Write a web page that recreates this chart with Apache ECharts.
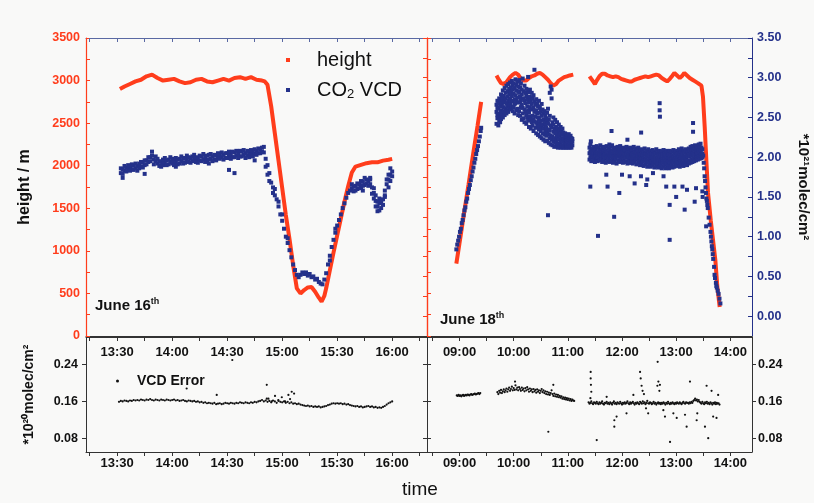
<!DOCTYPE html>
<html><head><meta charset="utf-8">
<script src="https://cdn.jsdelivr.net/npm/echarts@6/dist/echarts.min.js"></script>
<style>html,body{margin:0;padding:0;background:#f9f9f8;}#c{width:814px;height:503px;}</style>
</head><body><div id="c"></div>
<script>
// ---------- axis ranges / tick labels ----------
var leftRange = ['13:13', '16:19'];
var rightRange = ['08:24', '14:24'];
var leftTimeLabels = ['13:30', '14:00', '14:30', '15:00', '15:30', '16:00'];
var rightTimeLabels = ['09:00', '10:00', '11:00', '12:00', '13:00', '14:00'];
var heightTicks = [0, 500, 1000, 1500, 2000, 2500, 3000, 3500];
var co2Ticks = [0, 0.5, 1.0, 1.5, 2.0, 2.5, 3.0, 3.5];
var errTicks = [0.08, 0.16, 0.24];

// ---------- June 16: height (m) ----------
var heightJune16 = [
 ['13:31.5',2900],['13:34',2930],['13:37',2960],['13:40',2990],['13:43',3010],['13:46',3050],['13:49',3070],
 ['13:52',3030],['13:55',3000],['13:58',3010],['14:01',3020],['14:04',2990],['14:07',2970],['14:10',2980],
 ['14:13',3010],['14:16',3020],['14:19',2990],['14:22',2980],['14:25',3000],['14:28',3020],['14:31',3000],
 ['14:34',3030],['14:37',3040],['14:40',3020],['14:43',3040],['14:46',3010],['14:49',3000],['14:50.5',2990],
 ['14:52',2950],['14:54',2700],['14:56',2380],['14:58',2060],['15:00',1740],['15:02',1420],['15:04',1140],
 ['15:06',830],['15:08',560],['15:10',500],['15:12',540],['15:14',570],['15:16',575],['15:18',520],
 ['15:20',450],['15:21.5',405],['15:23',470],['15:24',560],['15:26',770],['15:28',980],['15:30',1180],
 ['15:32',1380],['15:34',1580],['15:36',1760],['15:38',1920],['15:40',1990],['15:43',2010],['15:46',2030],
 ['15:49',2040],['15:52',2040],['15:55',2060],['15:58',2070],['16:00',2080]
];
// ---------- June 16: CO2 VCD (*1e21 molec/cm2) ----------
var co2June16 = [
 ['13:32',1.80],['13:33',1.85],['13:34',1.83],['13:35',1.87],['13:36',1.84],['13:37',1.88],['13:38',1.85],['13:39',1.90],['13:40',1.86],['13:41',1.89],
 ['13:42',1.92],['13:43',1.88],['13:44',1.93],['13:45',1.90],['13:46',1.96],['13:47',1.94],['13:48',2.00],['13:49',2.02],['13:50',1.97],['13:51',1.95],
 ['13:52',1.92],['13:53',1.89],['13:54',1.94],['13:55',1.90],['13:56',1.93],['13:57',1.96],['13:58',1.91],['13:59',1.94],['14:00',1.92],['14:01',1.96],
 ['14:02',1.93],['14:03',1.97],['14:04',1.92],['14:05',1.95],['14:06',1.98],['14:07',1.93],['14:08',1.96],['14:09',1.94],['14:10',1.99],['14:11',1.95],
 ['14:12',1.97],['14:13',1.94],['14:14',1.99],['14:15',1.96],['14:16',2.01],['14:17',1.97],['14:18',2.00],['14:19',1.96],['14:20',2.03],['14:21',1.98],
 ['14:22',2.01],['14:23',1.97],['14:24',2.02],['14:25',1.99],['14:26',2.04],['14:27',2.00],['14:28',2.03],['14:29',1.99],['14:30',2.05],['14:31',2.01],
 ['14:32',2.04],['14:33',2.00],['14:34',2.06],['14:35',2.02],['14:36',2.05],['14:37',2.01],['14:38',2.07],['14:39',2.03],['14:40',2.05],['14:41',2.02],
 ['14:42',2.06],['14:43',2.03],['14:44',2.07],['14:45',2.04],['14:46',2.08],['14:47',2.05],['14:48',2.10],['14:49',2.12],['14:50',2.06],['14:51',1.98],
 ['14:52',1.90],['14:53',1.80],['14:54',1.68],['14:55',1.62],['14:56',1.52],['14:57',1.47],['14:58',1.38],['14:59',1.28],['15:00',1.20],['15:01',1.10],
 ['15:02',1.00],['15:03',0.92],['15:04',0.83],['15:05',0.74],['15:06',0.65],['15:07',0.58],['15:08',0.52],['15:09',0.49],['15:10',0.52],['15:11',0.55],
 ['15:12',0.53],['15:13',0.55],['15:14',0.51],['15:15',0.53],['15:16',0.49],['15:17',0.50],['15:18',0.46],['15:19',0.47],['15:20',0.43],['15:21',0.41],
 ['15:22',0.40],['15:23',0.46],['15:24',0.54],['15:25',0.65],['15:26',0.76],['15:27',0.87],['15:28',0.96],['15:29',1.05],['15:30',1.14],['15:31',1.21],
 ['15:32',1.28],['15:33',1.36],['15:34',1.42],['15:35',1.49],['15:36',1.55],['15:37',1.58],['15:38',1.61],['15:39',1.57],['15:40',1.64],['15:41',1.60],
 ['15:42',1.66],['15:43',1.62],['15:44',1.69],['15:45',1.65],['15:46',1.72],['15:47',1.70],['15:48',1.66],['15:49',1.62],['15:50',1.55],['15:51',1.45],
 ['15:52',1.38],['15:53',1.42],['15:54',1.36],['15:55',1.47],['15:56',1.58],['15:57',1.66],['15:58',1.72],['15:59',1.78],['16:00',1.82],
 ['13:33',1.74],['13:45',1.79],['14:02',1.88],['14:20',1.92],['14:31',1.84],['14:34',1.80],['14:45',1.96],['14:51',1.88],['14:52',1.78],
 ['14:53',1.70],['14:55',1.55],['14:56',1.60],['14:58',1.44],['15:00',1.28],['15:03',0.98],['15:26',0.70],['15:29',1.10],['15:44',1.58],
 ['15:48',1.74],['15:50',1.48],['15:51',1.38],['15:52',1.32],['15:53',1.48],['15:54',1.44],['15:56',1.50],['15:58',1.62],['15:59',1.86]
];
// second reading per minute in the noisy flat parts
var co2June16SecondAStart = '13:32';
var co2June16SecondA = [
 1.86,1.79,1.89,1.82,1.90,1.83,1.91,1.84,1.92,1.83,
 1.86,1.94,1.87,1.96,1.91,2.00,1.95,2.07,1.91,2.01,
 1.98,1.95,1.88,1.97,1.99,1.90,1.97,2.00,1.98,1.90,
 1.99,1.91,1.98,2.01,1.92,1.99,2.02,2.00,1.93,2.01,
 2.03,2.00,1.93,2.02,1.95,2.04,1.94,2.02,1.97,2.04,
 1.95,2.03,1.96,2.05,1.98,2.06,1.97,2.05,1.99,2.07,
 1.98,2.07,2.00,2.08,1.99,2.08,2.01,2.09,1.99,2.08,
 2.00,2.09,2.01,2.10,2.03,2.11,2.05,2.07,2.13
];
var co2June16SecondBStart = '15:38';
var co2June16SecondB = [1.66,1.63,1.58,1.67,1.61,1.70,1.64,1.74,1.67,1.64,1.72,1.54,1.61,1.52,1.44,1.33,1.46,1.40,1.52,1.72,1.78,1.70,1.76];

// ---------- June 16: VCD error (*1e20), one reading per minute from 13:31 ----------
var errJune16Start = '13:31';
var errJune16 = [
 0.159,0.161,0.160,0.162,0.161,0.160,0.162,0.161,0.163,0.162,
 0.163,0.162,0.164,0.163,0.162,0.164,0.163,0.165,0.163,0.162,
 0.164,0.163,0.162,0.164,0.163,0.162,0.164,0.163,0.162,0.163,
 0.164,0.162,0.163,0.161,0.162,0.163,0.161,0.160,0.162,0.161,
 0.160,0.161,0.159,0.160,0.158,0.159,0.157,0.158,0.156,0.157,
 0.156,0.155,0.157,0.154,0.155,0.156,0.154,0.155,0.157,0.156,
 0.155,0.157,0.156,0.155,0.157,0.156,0.158,0.157,0.156,0.158,
 0.157,0.156,0.158,0.157,0.159,0.158,0.160,0.161,0.163,0.160,
 0.162,0.159,0.161,0.158,0.162,0.160,0.157,0.161,0.159,0.158,
 0.160,0.157,0.159,0.156,0.158,0.155,0.156,0.154,0.155,0.153,
 0.152,0.151,0.150,0.151,0.149,0.150,0.148,0.149,0.148,0.149,
 0.147,0.148,0.149,0.150,0.152,0.153,0.155,0.156,0.155,0.156,
 0.155,0.156,0.154,0.155,0.153,0.154,0.152,0.151,0.150,0.149,
 0.150,0.148,0.149,0.147,0.148,0.149,0.150,0.148,0.149,0.147,
 0.148,0.146,0.147,0.146,0.148,0.150,0.153,0.156,0.158,0.160
];
var errJune16Scatter = [
 ['14:32.8',0.250],['14:07.9',0.188],['14:24.3',0.174],['14:51.6',0.196],['14:51.6',0.166],['14:52.5',0.166],
 ['14:54.3',0.160],['14:56.1',0.172],['14:57.9',0.163],['14:59.8',0.169],['15:01.6',0.160],['15:03.4',0.174],
 ['15:04.3',0.165],['15:05.2',0.181],['15:06.5',0.177]
];

// ---------- June 18: height (m), three flight legs ----------
var heightJune18a = [['08:56.5',850],['09:00',1090],['09:05',1440],['09:10',1780],['09:15',2130],['09:20',2470],['09:24',2750]];
var heightJune18b = [
 ['09:41',3060],['09:43',3020],['09:46',2970],['09:49',2960],['09:52',2980],['09:56',3040],['09:59',3070],['10:02',3090],
 ['10:05',3070],['10:08',3020],['10:11',3000],['10:14',3000],['10:17',3030],['10:20',3050],['10:23',3060],['10:26',3080],
 ['10:29',3090],['10:32',3070],['10:35',3040],['10:38',3010],['10:41',2970],['10:44',2940],['10:47',2960],['10:50',3000],
 ['10:53',3020],['10:56',3040],['10:59',3050],['11:02',3060],['11:06',3070]
];
var heightJune18c = [
 ['11:24',3050],['11:26',3030],['11:28',2990],['11:30',2960],['11:32',3000],['11:35',3050],['11:38',3080],['11:41',3080],
 ['11:44',3060],['11:47',3050],['11:50',3040],['11:53',3050],['11:56',3040],['11:59',3020],['12:02',3010],['12:05',3000],
 ['12:08',2990],['12:11',2990],['12:14',3010],['12:17',3020],['12:20',3030],['12:23',3040],['12:26',3050],['12:29',3040],
 ['12:32',3050],['12:35',3060],['12:38',3070],['12:41',3060],['12:44',3030],['12:47',3010],['12:50',2990],['12:53',3020],
 ['12:56',3060],['12:58',3090],['13:01',3060],['13:04',3030],['13:07',3060],['13:09',3090],['13:12',3060],['13:15',3030],
 ['13:18',3010],['13:21',2990],['13:24',2970],['13:26',2960],['13:28',2940],['13:29.7',2810],['13:31.6',2460],['13:33.4',2070],
 ['13:35.3',1680],['13:38.3',1360],['13:40.8',1130],['13:43.4',890],['13:45.6',580],['13:48.2',340]
];
// ---------- June 18: CO2 VCD; each row: time, readings ----------
var co2June18 = [
 ['08:56.5',0.84],['08:57.5',0.90],['08:58.5',0.95],['08:59.5',1.00],['09:00.5',1.06],['09:01.5',1.10],['09:02.5',1.17],['09:03.5',1.21],
 ['09:04.5',1.27],['09:05.5',1.33],['09:06.5',1.37],['09:07.5',1.44],['09:08.5',1.48],['09:09.5',1.55],['09:10.5',1.60],['09:11.5',1.65],
 ['09:12.5',1.71],['09:13.5',1.76],['09:14.5',1.82],['09:15.5',1.87],['09:16.5',1.93],['09:17.5',1.98],['09:18.5',2.04],['09:19.5',2.09],
 ['09:20.5',2.14],['09:21.5',2.20],['09:22.5',2.26],['09:23.5',2.33],['09:24',2.37],
 ['09:41',2.42,2.57,2.66],['09:42',2.49,2.53,2.71,2.62],['09:43',2.40,2.61,2.68],['09:44',2.46,2.55,2.74],['09:45',2.51,2.64,2.70,2.44],
 ['09:46',2.48,2.59,2.79],['09:47',2.56,2.67,2.75,2.52],['09:48',2.50,2.72,2.84],['09:49',2.58,2.63,2.77,2.69],['09:50',2.53,2.70,2.87],
 ['09:51',2.61,2.74,2.81,2.57],['09:52',2.55,2.68,2.90],['09:53',2.64,2.76,2.83,2.59],['09:54',2.57,2.71,2.92],['09:55',2.62,2.79,2.86,2.68],
 ['09:56',2.66,2.74,2.94],['09:57',2.60,2.82,2.88,2.71],['09:58',2.64,2.77,2.96],['09:59',2.58,2.70,2.85,2.91],['10:00',2.63,2.80,2.93],
 ['10:01',2.55,2.73,2.87,2.67],['10:02',2.68,2.78,2.98],['10:03',2.59,2.84,2.91,2.72],['10:04',2.61,2.75,2.95],['10:05',2.53,2.69,2.83,2.89],
 ['10:06',2.58,2.81,2.97],['10:07',2.52,2.69,2.76,2.88],['10:08',2.63,2.72,2.93],['10:09',2.47,2.66,2.85,2.79],['10:10',2.55,2.62,2.99],
 ['10:11',2.49,2.74,2.83],['10:12',2.44,2.60,2.71,2.90],['10:13',2.57,2.68,2.81],['10:14',2.42,2.53,2.77,2.86],['10:15',2.50,2.64,2.73],
 ['10:16',2.46,2.59,2.82,3.01],['10:17',2.38,2.56,2.69],['10:18',2.51,2.63,2.76,2.85],['10:19',2.36,2.48,2.72],['10:20',2.44,2.60,2.67,2.81],
 ['10:21',2.40,2.52,2.74],['10:22',2.33,2.47,2.62,2.78],['10:23',2.45,2.57,2.70,3.10],['10:24',2.37,2.51,2.66],['10:25',2.30,2.44,2.59,2.73],
 ['10:26',2.42,2.55,2.68],['10:27',2.28,2.39,2.50,2.64],['10:28',2.35,2.48,2.71],['10:29',2.26,2.43,2.56,2.62],['10:30',2.33,2.46,2.58],
 ['10:31',2.24,2.38,2.52,2.67],['10:32',2.30,2.41,2.60],['10:33',2.22,2.36,2.47,2.55],['10:34',2.29,2.44,2.58],['10:35',2.20,2.33,2.40,2.52],
 ['10:36',2.27,2.37,2.49],['10:37',2.21,2.31,2.45,2.56],['10:38',1.27,2.35,2.42,2.61],['10:39',2.18,2.29,2.47],['10:40',2.24,2.34,2.52,2.81],
 ['10:41',2.16,2.27,2.40,2.89],['10:42',2.22,2.38,2.74,2.85],['10:43',2.15,2.26,2.44],['10:44',2.20,2.32,2.41,2.50],['10:45',2.13,2.24,2.36],
 ['10:46',2.19,2.30,2.47],['10:47',2.14,2.21,2.38],['10:48',2.17,2.28,2.44,2.33],['10:49',2.12,2.25,2.36],['10:50',2.16,2.22,2.41],
 ['10:51',2.13,2.27,2.34],['10:52',2.12,2.19,2.30,2.38],['10:53',2.15,2.24,2.33],['10:54',2.12,2.20,2.29,2.36],['10:55',2.14,2.23,2.31],
 ['10:56',2.12,2.18,2.27],['10:57',2.15,2.22,2.30],['10:58',2.12,2.17,2.25],['10:59',2.14,2.21,2.28],['11:00',2.12,2.19,2.26],
 ['11:01',2.15,2.22,2.29],['11:02',2.12,2.17,2.25],['11:03',2.14,2.21,2.27],['11:04',2.12,2.18,2.24],['11:05',2.15,2.20,2.23],
 ['11:24',1.97,2.05,2.12],['11:25',2.00,2.07,2.16],['11:26',1.95,2.02,2.08],['11:27',2.01,2.06,2.11],['11:28',1.96,2.03,2.07],['11:29',1.99,2.05,2.13],['11:30',1.94,2.01,2.09],
 ['11:31',2.02,2.04,2.10],['11:32',1.97,2.06,2.14],['11:33',1.95,2.00,2.06],['11:34',2.00,2.03,2.12],['11:35',1.96,2.04,2.09],['11:36',2.03,2.08,2.15],['11:37',1.98,2.02,2.08],
 ['11:38',1.94,2.04,2.11],['11:39',2.01,2.07,2.13],['11:40',1.96,2.01,2.07],['11:41',1.99,2.05,2.12],['11:42',1.93,2.03,2.08],['11:43',2.00,2.06,2.14],['11:44',1.95,2.00,2.06],
 ['11:45',1.98,2.04,2.11],['11:46',1.94,2.02,2.09],['11:47',2.01,2.05,2.13],['11:48',1.96,2.02,2.07],['11:49',1.99,2.06,2.15],['11:50',1.93,2.01,2.08],['11:51',2.00,2.04,2.11],
 ['11:52',1.95,2.01,2.06],['11:53',1.98,2.05,2.12],['11:54',1.92,2.02,2.09],['11:55',2.01,2.06,2.13],['11:56',1.96,2.01,2.07],['11:57',1.94,2.03,2.10],['11:58',2.00,2.06,2.14],
 ['11:59',1.95,2.02,2.08],['12:00',1.98,2.04,2.11],['12:01',1.93,2.00,2.06],['12:02',1.99,2.05,2.12],['12:03',1.94,2.02,2.08],['12:04',2.00,2.03,2.10],['12:05',1.95,2.05,2.13],
 ['12:06',1.92,2.00,2.07],['12:07',1.98,2.03,2.11],['12:08',1.94,2.01,2.06],['12:09',2.00,2.04,2.12],['12:10',1.93,2.02,2.08],['12:11',1.97,2.03,2.10],['12:12',1.92,1.99,2.05],
 ['12:13',1.99,2.05,2.13],['12:14',1.94,2.00,2.07],['12:15',1.97,2.04,2.11],['12:16',1.91,1.99,2.06],['12:17',1.98,2.02,2.09],['12:18',1.93,2.04,2.12],['12:19',1.96,2.00,2.05],
 ['12:20',1.90,1.99,2.08],['12:21',1.97,2.03,2.10],['12:22',1.92,1.98,2.04],['12:23',1.95,2.02,2.09],['12:24',1.89,1.98,2.06],['12:25',1.96,2.03,2.11],['12:26',1.91,1.97,2.05],
 ['12:27',1.94,2.01,2.08],['12:28',1.88,1.96,2.03],['12:29',1.95,2.02,2.10],['12:30',1.90,1.98,2.06],['12:31',1.93,1.99,2.04],['12:32',1.88,1.97,2.08],['12:33',1.95,2.00,2.05],
 ['12:34',1.90,1.99,2.09],['12:35',1.92,1.97,2.03],['12:36',1.87,1.96,2.07],['12:37',1.94,1.99,2.05],['12:38',1.89,2.00,2.10],['12:39',1.92,1.98,2.04],['12:40',1.87,1.96,2.06],
 ['12:41',1.93,1.97,2.02],['12:42',1.88,1.99,2.08],['12:43',1.91,1.96,2.04],['12:44',1.86,1.98,2.07],['12:45',1.93,1.97,2.03],['12:46',1.88,1.99,2.09],['12:47',1.91,1.98,2.05],
 ['12:48',1.86,1.95,2.02],['12:49',1.92,1.99,2.08],['12:50',1.87,1.96,2.04],['12:51',1.90,1.98,2.06],['12:52',1.86,1.95,2.03],['12:53',1.93,1.99,2.08],['12:54',1.88,1.97,2.04],
 ['12:55',1.91,1.98,2.07],['12:56',1.87,1.95,2.02],['12:57',1.93,2.00,2.09],['12:58',1.88,1.97,2.05],['12:59',1.92,1.99,2.07],['13:00',1.89,1.96,2.03],['13:01',1.94,2.00,2.08],
 ['13:02',1.90,1.98,2.05],['13:03',1.93,2.01,2.10],['13:04',1.88,1.97,2.04],['13:05',1.95,2.00,2.07],['13:06',1.90,2.02,2.11],['13:07',1.93,1.99,2.05],['13:08',1.89,1.98,2.08],
 ['13:09',1.95,2.01,2.06],['13:10',1.91,2.00,2.10],['13:11',1.94,1.99,2.04],['13:12',1.90,2.02,2.09],['13:13',1.96,2.01,2.07],['13:14',1.92,2.03,2.11],['13:15',1.95,2.01,2.08],
 ['13:16',1.93,2.04,2.13],['13:17',1.97,2.02,2.09],['13:18',1.94,2.05,2.14],['13:19',1.98,2.03,2.10],['13:20',1.95,2.04,2.12],['13:21',1.99,2.07,2.15],['13:22',1.96,2.03,2.11],
 ['13:23',2.00,2.06,2.14],['13:24',1.97,2.05,2.12],['13:25',2.01,2.08,2.16],['13:26',1.98,2.06,2.13],['13:27',2.02,2.09,2.17],['13:28',1.99,2.05,2.12],['13:29',2.00,2.04,2.10],
 ['13:30',2.02],['13:30.5',1.93],['13:31',1.86],['13:31.5',1.76],['13:32',1.70],['13:32.5',1.62],['13:33',1.55],['13:33.5',1.48],
 ['13:34',1.45],['13:34.5',1.40],['13:35',1.36],['13:33.2',1.13],['13:36',1.24],['13:37',1.15],['13:38',1.06],['13:38.5',1.00],
 ['13:39',0.94],['13:39.5',0.88],['13:40',0.84],['13:40.5',0.78],['13:41',0.72],['13:42',0.62],['13:42.5',0.52],['13:43',0.48],
 ['13:44',0.42],['13:44.5',0.38],['13:45',0.36],['13:46',0.32],['13:47',0.28],['13:48',0.22],['13:49',0.16]
];
var co2June18Outliers = [
 ['11:24.9',1.63],['11:33.4',1.01],['11:42.6',1.78],['11:44',1.63],['11:51.3',1.25],['11:57',1.55],['12:00',1.78],['12:08.5',1.76],
 ['12:10',1.93],['12:14',1.67],['12:21',1.76],['12:26.8',1.65],['12:28',1.72],['12:34.3',1.80],['12:41.7',2.68],['12:41.7',2.59],
 ['12:42',2.51],['12:46',1.76],['12:49',1.63],['12:52.8',0.96],['12:52.8',1.40],['12:58',1.63],['13:00',1.50],['13:07',1.63],
 ['13:09.4',1.34],['13:12',1.59],['13:20.5',1.44],['13:22',1.61],['13:18.7',2.43],['13:18.7',2.32],['11:48.4',2.33],['12:21.2',2.31],
 ['12:06',2.22],['11:25.5',2.20],['11:46',2.16],['13:29',1.57],['13:29.3',1.50]
];
// ---------- June 18: VCD error ----------
var errJune18aStart = '08:57';
var errJune18a = [0.173,0.172,0.174,0.172,0.173,0.171,0.173,0.174,0.172,0.173,0.174,0.173,0.175,0.174,0.173,0.175,0.176,0.174,0.175,0.176,0.177,0.175,0.176,0.177,0.178,0.176,0.178];
var errJune18bStart = '09:42';
var errJune18b = [
 0.180,0.176,0.183,0.179,0.185,0.178,0.182,0.186,0.180,0.184,
 0.188,0.181,0.186,0.190,0.183,0.187,0.192,0.184,0.189,0.185,
 0.195,0.186,0.190,0.184,0.191,0.187,0.183,0.190,0.185,0.188,
 0.182,0.189,0.184,0.191,0.186,0.181,0.188,0.183,0.186,0.180,
 0.187,0.182,0.185,0.179,0.186,0.181,0.184,0.178,0.183,0.187,
 0.180,0.184,0.178,0.182,0.176,0.181,0.175,0.179,0.174,0.178,
 0.184,0.176,0.172,0.177,0.171,0.175,0.170,0.174,0.169,0.172,
 0.168,0.171,0.166,0.169,0.165,0.168,0.164,0.167,0.163,0.166,
 0.162,0.165,0.161,0.164,0.162,0.161
];
var errJune18cStart = '11:23';
var errJune18c = [
 0.158,0.155,0.157,0.160,0.156,0.154,0.158,0.157,0.155,0.159,
 0.156,0.154,0.158,0.155,0.157,0.160,0.155,0.153,0.157,0.156,
 0.159,0.155,0.157,0.154,0.158,0.156,0.153,0.157,0.160,0.155,
 0.157,0.154,0.158,0.156,0.155,0.159,0.156,0.153,0.157,0.155,
 0.158,0.155,0.157,0.160,0.156,0.154,0.158,0.155,0.157,0.159,
 0.156,0.153,0.157,0.155,0.158,0.156,0.154,0.159,0.157,0.155,
 0.160,0.156,0.158,0.154,0.157,0.161,0.156,0.155,0.158,0.157,
 0.154,0.156,0.159,0.155,0.157,0.153,0.156,0.158,0.155,0.157,
 0.154,0.157,0.155,0.158,0.156,0.153,0.157,0.155,0.159,0.156,
 0.154,0.157,0.155,0.158,0.156,0.154,0.157,0.155,0.158,0.156,
 0.155,0.158,0.156,0.154,0.157,0.159,0.156,0.155,0.158,0.157,
 0.157,0.155,0.158,0.156,0.159,0.157,0.161,0.163,0.166,0.162,
 0.164,0.160,0.163,0.159,0.157,0.155,0.159,0.156,0.154,0.158,
 0.156,0.159,0.155,0.157,0.154,0.158,0.156,0.153,0.157,0.155,
 0.158,0.154,0.157,0.155,0.156,0.153
];
var errJune18Scatter = [
 ['11:25.3',0.224],['11:25.3',0.210],['11:25.6',0.196],['11:26',0.181],['11:25',0.167],['11:32',0.076],['11:43',0.170],
 ['11:51.5',0.119],['11:51.5',0.105],['11:54',0.127],['12:05',0.134],['12:12.6',0.174],['12:20',0.224],['12:20.7',0.210],
 ['12:21.7',0.194],['12:22.8',0.183],['12:24.3',0.176],['12:26.6',0.145],['12:29',0.134],['12:39.5',0.246],['12:40.3',0.203],
 ['12:39.2',0.194],['12:41.4',0.183],['12:42',0.196],['12:45.8',0.141],['12:47.6',0.127],['12:53.2',0.072],['12:56.9',0.134],
 ['13:00.6',0.124],['13:09.8',0.131],['13:11.6',0.105],['13:15.3',0.203],['13:22.7',0.119],['13:23.4',0.134],['13:31.9',0.105],
 ['13:33.7',0.194],['13:35.5',0.080],['13:39.2',0.183],['13:41',0.127],['13:44.7',0.124],['13:46.5',0.174],['10:38.4',0.094],
 ['10:43.9',0.196],['10:01.5',0.203]
];

// ---------- helpers ----------
function tm(s){ var p = String(s).split(':'); return (+p[0]) * 60 + parseFloat(p[1]); }
function pairs(a){ return a.map(function(d){ return [tm(d[0]), d[1]]; }); }
function multi(a){ var o = []; a.forEach(function(d){ for (var i = 1; i < d.length; i++) o.push([tm(d[0]), d[i]]); }); return o; }
function perMinute(start, vals){ var t0 = tm(start); return vals.map(function(v, i){ return [t0 + i, v]; }); }
function hhmm(v){ var h = Math.floor(v / 60), m = Math.round(v - h * 60); return (h < 10 ? '0' : '') + h + ':' + (m < 10 ? '0' : '') + m; }
function range(a, b, step){ var o = []; for (var v = a; v <= b + 1e-9; v += step) o.push(+v.toFixed(4)); return o; }

var RED = '#ff3d1c', BLUE = '#24318a', DARK = '#333333', TOPLINE = '#5a69a3';
var FONT = 'Liberation Sans, Arial, sans-serif';
var lMin = tm(leftRange[0]), lMax = tm(leftRange[1]), rMin = tm(rightRange[0]), rMax = tm(rightRange[1]);
var lLab = leftTimeLabels.map(tm), rLab = rightTimeLabels.map(tm);
var lTick = range(795, 975, 15), rTick = range(510, 840, 30);

function xAx(grid, min, max, pos, opts){
  var base = {type:'value', gridIndex:grid, min:min, max:max, position:pos, splitLine:{show:false},
    axisLine:{show:true, onZero:false, lineStyle:{color:DARK, width:1}}, axisTick:{show:false}, axisLabel:{show:false}};
  return Object.assign(base, opts || {});
}
function timeLabel(vals, inside, margin){
  return {show:true, inside:inside, margin:margin, customValues:vals, formatter:hhmm,
    fontFamily:FONT, fontSize:13, fontWeight:'bold', color:'#111'};
}

var chart = echarts.init(document.getElementById('c'), null, {renderer:'canvas'});
var option = {
  animation:false,
  backgroundColor:'#f9f9f8',
  textStyle:{fontFamily:FONT},
  grid:[
    {left:86, top:38, width:341, height:298, outerBoundsMode:'none'},
    {left:427, top:38, width:325, height:298, outerBoundsMode:'none'},
    {left:86, top:337, width:341, height:115, outerBoundsMode:'none'},
    {left:427, top:337, width:325, height:115, outerBoundsMode:'none'}
  ],
  xAxis:[
    xAx(0, lMin, lMax, 'bottom'),
    xAx(0, lMin, lMax, 'top', {axisLine:{show:true, onZero:false, lineStyle:{color:TOPLINE}}, axisTick:{show:true, inside:true, length:4, customValues:lTick, lineStyle:{color:TOPLINE}}}),
    xAx(1, rMin, rMax, 'bottom'),
    xAx(1, rMin, rMax, 'top', {axisLine:{show:true, onZero:false, lineStyle:{color:TOPLINE}}, axisTick:{show:true, inside:true, length:4, customValues:rTick, lineStyle:{color:TOPLINE}}}),
    xAx(2, lMin, lMax, 'bottom', {axisTick:{show:true, inside:false, length:4, customValues:lTick, lineStyle:{color:DARK}}, axisLabel:timeLabel(lLab, false, 5)}),
    xAx(2, lMin, lMax, 'top', {axisTick:{show:true, inside:true, length:4, customValues:lTick, lineStyle:{color:DARK}}, axisLabel:timeLabel(lLab, true, 9)}),
    xAx(3, rMin, rMax, 'bottom', {axisTick:{show:true, inside:false, length:4, customValues:rTick, lineStyle:{color:DARK}}, axisLabel:timeLabel(rLab, false, 5)}),
    xAx(3, rMin, rMax, 'top', {axisTick:{show:true, inside:true, length:4, customValues:rTick, lineStyle:{color:DARK}}, axisLabel:timeLabel(rLab, true, 9)})
  ],
  yAxis:[
    {type:'value', gridIndex:0, position:'left', min:0, max:3500, interval:500, splitLine:{show:false},
     axisLine:{show:true, onZero:false, lineStyle:{color:RED, width:1.2}},
     axisTick:{show:true, inside:true, length:4, customValues:range(0,3500,250), lineStyle:{color:RED}},
     axisLabel:{show:true, customValues:heightTicks, margin:6, formatter:function(v){return String(v);},
       fontFamily:FONT, fontSize:12.5, fontWeight:'bold', color:RED},
     name:'height / m', nameLocation:'middle', nameGap:53, nameMoveOverlap:false,
     nameTextStyle:{fontFamily:FONT, fontSize:16, fontWeight:'bold', color:'#111'}},
    {type:'value', gridIndex:0, position:'right', min:-0.25, max:3.5, splitLine:{show:false},
     axisLine:{show:true, onZero:false, lineStyle:{color:RED, width:1.2}},
     axisTick:{show:true, inside:true, length:4, customValues:range(0,3500,250).map(function(v){return v/1000;}), lineStyle:{color:RED}},
     axisLabel:{show:false}},
    {type:'value', gridIndex:1, position:'left', min:0, max:3500, splitLine:{show:false},
     axisLine:{show:true, onZero:false, lineStyle:{color:RED, width:1.2}},
     axisTick:{show:true, inside:true, length:4, customValues:range(0,3500,250), lineStyle:{color:RED}},
     axisLabel:{show:false}},
    {type:'value', gridIndex:1, position:'right', min:-0.25, max:3.5, splitLine:{show:false},
     axisLine:{show:true, onZero:false, lineStyle:{color:BLUE, width:1}},
     axisTick:{show:true, inside:true, length:4, customValues:range(0,3.5,0.25), lineStyle:{color:BLUE}},
     axisLabel:{show:true, customValues:co2Ticks, margin:5, formatter:function(v){return v.toFixed(2);},
       fontFamily:FONT, fontSize:12.5, fontWeight:'bold', color:BLUE},
     name:'*10\u00B2\u00B9molec/cm\u00B2', nameLocation:'middle', nameGap:44, nameRotate:-90, nameMoveOverlap:false,
     nameTextStyle:{fontFamily:FONT, fontSize:15, fontWeight:'bold', color:'#111'}},
    {type:'value', gridIndex:2, position:'left', min:0.05, max:0.30, splitLine:{show:false},
     axisLine:{show:true, onZero:false, lineStyle:{color:DARK}},
     axisTick:{show:true, inside:false, length:4, customValues:errTicks, lineStyle:{color:DARK}},
     axisLabel:{show:true, customValues:errTicks, margin:8, formatter:function(v){return v.toFixed(2);},
       fontFamily:FONT, fontSize:12.5, fontWeight:'bold', color:'#111'},
     name:'*10\u00B2\u2070molec/cm\u00B2', nameLocation:'middle', nameGap:50, nameMoveOverlap:false,
     nameTextStyle:{fontFamily:FONT, fontSize:14, fontWeight:'bold', color:'#111'}},
    {type:'value', gridIndex:2, position:'right', min:0.05, max:0.30, splitLine:{show:false},
     axisLine:{show:true, onZero:false, lineStyle:{color:DARK}},
     axisTick:{show:true, inside:true, length:4, customValues:errTicks, lineStyle:{color:DARK}}, axisLabel:{show:false}},
    {type:'value', gridIndex:3, position:'left', min:0.05, max:0.30, splitLine:{show:false},
     axisLine:{show:true, onZero:false, lineStyle:{color:DARK}},
     axisTick:{show:true, inside:true, length:4, customValues:errTicks, lineStyle:{color:DARK}}, axisLabel:{show:false}},
    {type:'value', gridIndex:3, position:'right', min:0.05, max:0.30, splitLine:{show:false},
     axisLine:{show:true, onZero:false, lineStyle:{color:DARK}},
     axisTick:{show:true, inside:false, length:4, customValues:errTicks, lineStyle:{color:DARK}},
     axisLabel:{show:true, customValues:errTicks, margin:6, formatter:function(v){return v.toFixed(2);},
       fontFamily:FONT, fontSize:12.5, fontWeight:'bold', color:'#111'}}
  ],
  legend:[
    {data:['height','CO2 VCD'], orient:'vertical', left:281, top:45, itemGap:8, itemWidth:4, itemHeight:4, icon:'rect',
     selectedMode:false,
     formatter:function(n){ return n === 'CO2 VCD' ? '{n|CO}{s|2}{n| VCD}' : '{n|' + n + '}'; },
     textStyle:{fontFamily:FONT, fontSize:20, color:'#111', padding:[0,0,0,22],
       rich:{n:{fontFamily:FONT, fontSize:20, color:'#111', lineHeight:22},
             s:{fontFamily:FONT, fontSize:13, color:'#111', lineHeight:12, verticalAlign:'bottom', padding:[10,0,0,0]}}}},
    {data:['VCD Error'], orient:'vertical', left:111, top:369, itemWidth:3, itemHeight:3, icon:'circle', selectedMode:false,
     textStyle:{fontFamily:FONT, fontSize:14, fontWeight:'bold', color:'#111', padding:[0,0,0,13]}}
  ],
  graphic:[
    {type:'text', left:95, top:297, style:{text:'{a|June 16}{b|th}', rich:{a:{fontFamily:FONT, fontSize:15, fontWeight:'bold', fill:'#111', lineHeight:18}, b:{fontFamily:FONT, fontSize:9, fontWeight:'bold', fill:'#111', verticalAlign:'top', lineHeight:18, padding:[0,0,6,0]}}}},
    {type:'text', left:440, top:311, style:{text:'{a|June 18}{b|th}', rich:{a:{fontFamily:FONT, fontSize:15, fontWeight:'bold', fill:'#111', lineHeight:18}, b:{fontFamily:FONT, fontSize:9, fontWeight:'bold', fill:'#111', verticalAlign:'top', lineHeight:18, padding:[0,0,6,0]}}}},
    {type:'text', left:402, top:480, style:{text:'time', fontFamily:FONT, fontSize:19, fill:'#111'}}
  ],
  series:[
    {name:'height', type:'line', xAxisIndex:0, yAxisIndex:0, data:pairs(heightJune16), showSymbol:false, symbol:'rect',
     lineStyle:{color:RED, width:4}, itemStyle:{color:RED}, z:2},
    {name:'height', type:'line', xAxisIndex:2, yAxisIndex:2, data:pairs(heightJune18a), showSymbol:false, symbol:'rect',
     lineStyle:{color:RED, width:4}, itemStyle:{color:RED}, z:2},
    {name:'height', type:'line', xAxisIndex:2, yAxisIndex:2, data:pairs(heightJune18b), showSymbol:false, symbol:'rect',
     lineStyle:{color:RED, width:4}, itemStyle:{color:RED}, z:2},
    {name:'height', type:'line', xAxisIndex:2, yAxisIndex:2, data:pairs(heightJune18c), showSymbol:false, symbol:'rect',
     lineStyle:{color:RED, width:4}, itemStyle:{color:RED}, z:2},
    {name:'CO2 VCD', type:'scatter', xAxisIndex:0, yAxisIndex:1,
     data:pairs(co2June16).concat(perMinute(co2June16SecondAStart, co2June16SecondA), perMinute(co2June16SecondBStart, co2June16SecondB)),
     symbol:'rect', symbolSize:4, itemStyle:{color:BLUE, opacity:1}, z:3},
    {name:'CO2 VCD', type:'scatter', xAxisIndex:2, yAxisIndex:3, data:multi(co2June18).concat(pairs(co2June18Outliers)), symbol:'rect', symbolSize:4,
     itemStyle:{color:BLUE, opacity:1}, z:3},
    {name:'VCD Error', type:'scatter', xAxisIndex:4, yAxisIndex:4,
     data:perMinute(errJune16Start, errJune16).concat(pairs(errJune16Scatter)), symbol:'circle', symbolSize:2.2,
     itemStyle:{color:'#111', opacity:1}},
    {name:'VCD Error', type:'scatter', xAxisIndex:6, yAxisIndex:7,
     data:perMinute(errJune18aStart, errJune18a).concat(perMinute(errJune18bStart, errJune18b), perMinute(errJune18cStart, errJune18c), pairs(errJune18Scatter)),
     symbol:'circle', symbolSize:2.2, itemStyle:{color:'#111', opacity:1}}
  ]
};
chart.setOption(option);
</script>
</body></html>
